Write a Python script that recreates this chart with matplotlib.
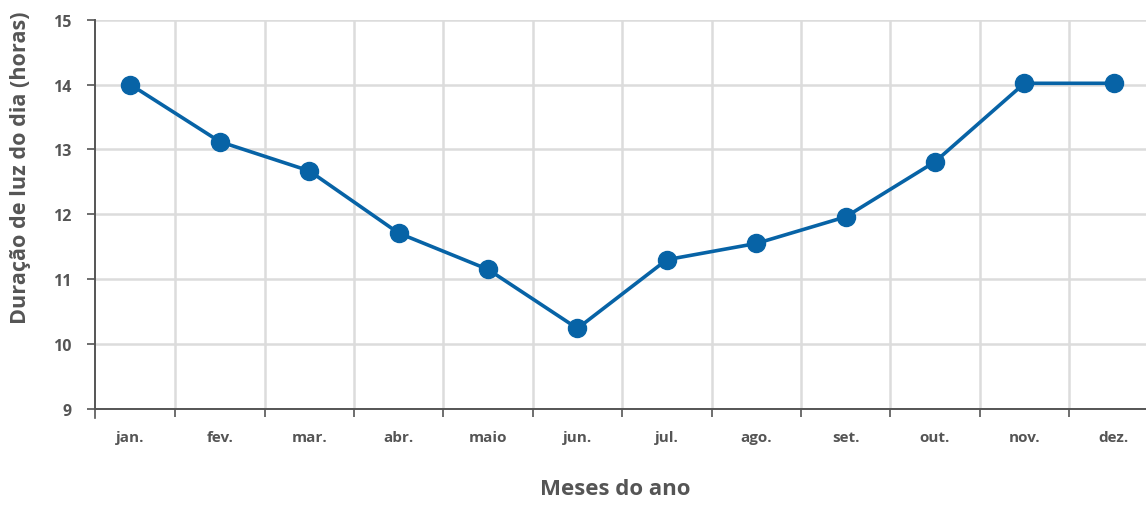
import matplotlib as mpl
mpl.use('Agg')
import matplotlib.pyplot as plt
import numpy as np

# daylight hours per month
meses = ['jan.', 'fev.', 'mar.', 'abr.', 'maio', 'jun.',
         'jul.', 'ago.', 'set.', 'out.', 'nov.', 'dez.']
horas = [14.0, 13.12, 12.67, 11.71, 11.15, 10.24,
         11.3, 11.55, 11.96, 12.81, 14.02, 14.02]
yticks = [9, 10, 11, 12, 13, 14, 15]

azul = '#0763a6'
cinza = '#555555'
grade = '#dcdcdc'

plt.rcParams['font.family'] = ['Open Sans', 'DejaVu Sans']

fig = plt.figure(figsize=(11.46, 5.06), dpi=100)
ax = fig.add_axes([0.083, 0.19, 0.917, 0.769])

x = np.arange(len(meses))
ax.plot(x, horas, color=azul, lw=2.6, marker='o', ms=13, zorder=3, clip_on=False)

# month labels centred, tick marks on the boundaries
ax.set_xticks(x)
ax.set_xticklabels(meses, fontsize=11, fontweight='bold', color=cinza)
ax.set_xticks(np.arange(0.5, 10.6, 1), minor=True)
ax.tick_params(axis='x', which='major', length=0, pad=15)
ax.tick_params(axis='x', which='minor', length=6, width=1.2, color=cinza, direction='out')
ax.set_yticks(yticks)
ax.set_yticklabels([str(v) for v in yticks], fontsize=11.5, fontweight='bold', color=cinza)
ax.tick_params(axis='y', length=6, width=1.2, color=cinza, pad=11)

ax.set_xlim(-0.395, 11.36)
ax.set_ylim(9, 15)

# extra tick at left edge of the x axis
ax.plot([-0.395, -0.395], [9, 8.86], color=cinza, lw=1.2, clip_on=False)

ax.grid(True, axis='y', which='major', color=grade, lw=1.8)
ax.grid(True, axis='x', which='minor', color=grade, lw=1.8)
ax.set_axisbelow(True)

for s in ['top', 'right']:
    ax.spines[s].set_visible(False)
for s in ['left', 'bottom']:
    ax.spines[s].set_color(cinza)
    ax.spines[s].set_linewidth(1.4)

ax.set_xlabel('Meses do ano', fontsize=16, fontweight='bold', color=cinza)
ax.xaxis.set_label_coords(0.495, -0.178)
ax.set_ylabel('Duração de luz do dia (horas)', fontsize=15.6, fontweight='bold', color=cinza)
ax.yaxis.set_label_coords(-0.061, 0.622)

plt.savefig('out.png', dpi=100)
